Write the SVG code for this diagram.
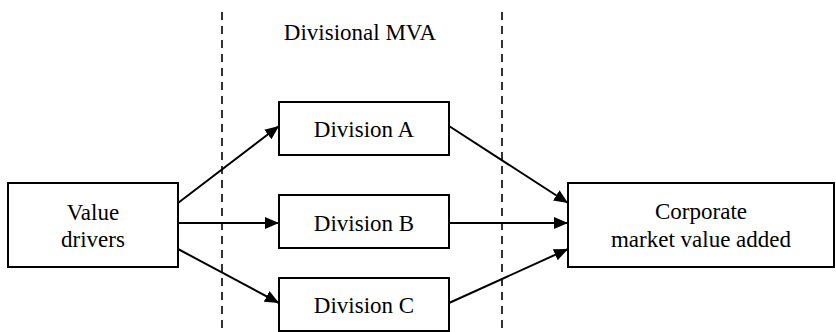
<svg xmlns="http://www.w3.org/2000/svg" width="836" height="332" viewBox="0 0 836 332">
<defs>
<style>
.box{fill:#fff;stroke:#000;stroke-width:2}
.t{font-family:'Liberation Serif','Times New Roman',Tinos,'DejaVu Serif',serif;font-size:23px;fill:#000;text-anchor:middle}
.c{stroke:#000;stroke-width:2;fill:none;marker-end:url(#ah)}
.d{stroke:#000;stroke-width:1.6;stroke-dasharray:8,6;fill:none}
</style>
<marker id="ah" viewBox="0 0 14 12" refX="14" refY="6" markerWidth="14" markerHeight="12" markerUnits="userSpaceOnUse" orient="auto">
<path d="M0,0 L14,6 L0,12 Z" fill="#000"/>
</marker>
</defs>
<g id="guides">
<line class="d" x1="222" y1="12" x2="222" y2="332"/>
<line class="d" x1="502" y1="12" x2="502" y2="332"/>
<text class="t" x="360" y="40" style="font-family:'Liberation Serif',serif">Divisional MVA</text>
</g>
<g id="connectors">
<line class="c" x1="178" y1="203" x2="279" y2="126"/>
<line class="c" x1="178" y1="223" x2="279" y2="223"/>
<line class="c" x1="178" y1="249" x2="279" y2="303"/>
<line class="c" x1="449" y1="126" x2="568" y2="203"/>
<line class="c" x1="449" y1="223" x2="568" y2="223"/>
<line class="c" x1="449" y1="303" x2="568" y2="249"/>
</g>
<g id="value-drivers">
<rect class="box" x="8" y="183" width="170" height="84"/>
<text class="t" x="93" y="220">Value</text>
<text class="t" x="93" y="247">drivers</text>
</g>
<g id="division-a">
<rect class="box" x="279" y="102" width="170" height="53"/>
<text class="t" x="364" y="137">Division A</text>
</g>
<g id="division-b">
<rect class="box" x="279" y="195" width="170" height="53"/>
<text class="t" x="364" y="231">Division B</text>
</g>
<g id="division-c">
<rect class="box" x="279" y="278" width="170" height="53"/>
<text class="t" x="364" y="313">Division C</text>
</g>
<g id="corporate">
<rect class="box" x="568" y="183" width="266" height="84"/>
<text class="t" x="701" y="219">Corporate</text>
<text class="t" x="701" y="247">market value added</text>
</g>
</svg>
